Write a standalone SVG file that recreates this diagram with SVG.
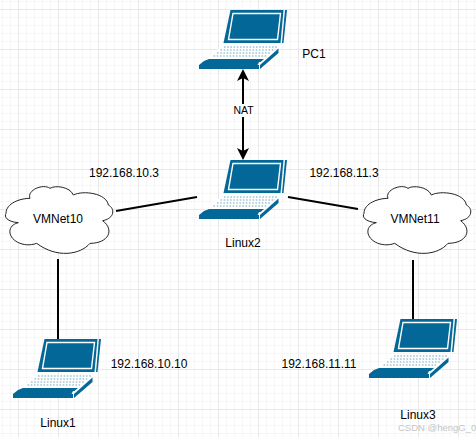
<svg xmlns="http://www.w3.org/2000/svg" width="476" height="437" viewBox="0 0 476 437">
<style>
.t{font-family:"Liberation Sans",Arial,sans-serif;font-size:12px;fill:#000;text-anchor:middle}
.c{fill:none;stroke:#000;stroke-width:2}
.cl{fill:#fff;stroke:#222;stroke-width:3}
.g1{stroke:#f6f6f6;stroke-width:1}
.g2{stroke:#e8e8e8;stroke-width:1}
.b{fill:#036897}
.k{stroke:#9fc5d8;stroke-width:1.4;stroke-dasharray:1.6 1.6;fill:none}
</style>
<defs>
<pattern id="minor" width="8" height="8" patternUnits="userSpaceOnUse" x="2" y="1"><path d="M.5 0V8M0 .5H8" class="g1"/></pattern>
<pattern id="major" width="40" height="40" patternUnits="userSpaceOnUse" x="18" y="9"><path d="M.5 0V40M0 .5H40" class="g2"/></pattern>
<marker id="ah" viewBox="0 0 12 12" refX="10" refY="6" markerWidth="12" markerHeight="12" markerUnits="userSpaceOnUse" orient="auto-start-reverse"><path d="M0 0L12 6L0 12L3 6Z" fill="#000"/></marker>
<symbol id="laptop" width="88" height="60" viewBox="0 0 88 60" overflow="visible">
<path class="b" d="M31.5 0H84.5L81.5 33H24.5Z"/>
<path d="M86 0H88L84.5 33H83Z" class="b"/>
<path d="M34 3.500H81.500L78.500 29.500H29.500Z" fill="none" stroke="#fff" stroke-width="1.4"/>
<path d="M24 35H79.500L60 52H4Z" fill="#fff"/>
<path class="k" d="M25 37H78M21.500 40H74.500M18 43H71M14.500 46H67"/>
<path class="b" d="M10 49H65L61.500 52H60L58.500 55H0L5 51Z"/>
<path class="b" d="M0 55H60V59H0Z"/>
<path class="b" d="M61 55L79.500 38.500V43L61 59Z"/>
</symbol>
<symbol id="cloud" width="116" height="90" viewBox="0 0 348 270" overflow="visible">
<path class="cl" d="M18 100C18 70 60 55 90 55C80 30 130 10 150 25C165 15 210 20 220 45C250 30 320 40 325 75C345 85 345 115 308 122C345 150 325 190 270 190C240 225 170 235 110 190C70 205 25 180 30 150C32 138 45 130 55 128C20 125 12 110 18 100Z"/>
</symbol>
</defs>
<rect id="bg" width="476" height="437" fill="#fff"/>
<rect width="476" height="437" fill="url(#minor)"/>
<rect width="476" height="437" fill="url(#major)"/>
<g id="connectors">
<path class="c" d="M243 71V158" marker-start="url(#ah)" marker-end="url(#ah)"/>
<path class="c" d="M116 211L197 197"/>
<path class="c" d="M288 197L358 209"/>
<path class="c" d="M58 259V339"/>
<path class="c" d="M413 260V319"/>
<rect x="233" y="104" width="21" height="13" fill="#fff"/>
<text class="t" x="243.500" y="114" style="font-size:10.500px">NAT</text>
</g>
<g id="PC1"><use href="#laptop" x="199" y="10"/><text class="t" x="314" y="58">PC1</text></g>
<g id="Linux2"><use href="#laptop" x="199" y="160"/><text class="t" x="243" y="247">Linux2</text></g>
<g id="Linux1"><use href="#laptop" x="13" y="339"/><text class="t" x="58" y="427">Linux1</text></g>
<g id="Linux3"><use href="#laptop" x="369" y="319"/><text class="t" x="418" y="419">Linux3</text></g>
<g id="VMNet10"><use href="#cloud" x="0" y="180"/><text class="t" x="58" y="223">VMNet10</text></g>
<g id="VMNet11"><use href="#cloud" x="358" y="180"/><text class="t" x="415" y="223">VMNet11</text></g>
<g id="labels">
<text class="t" x="124" y="177">192.168.10.3</text>
<text class="t" x="344" y="177">192.168.11.3</text>
<text class="t" x="149" y="368">192.168.10.10</text>
<text class="t" x="319" y="368">192.168.11.11</text>
<text x="398" y="431" style="font-family:'Liberation Sans',Arial,sans-serif;font-size:9.500px;fill:#c4c4c4">CSDN @hengG_0</text>
</g>
</svg>
